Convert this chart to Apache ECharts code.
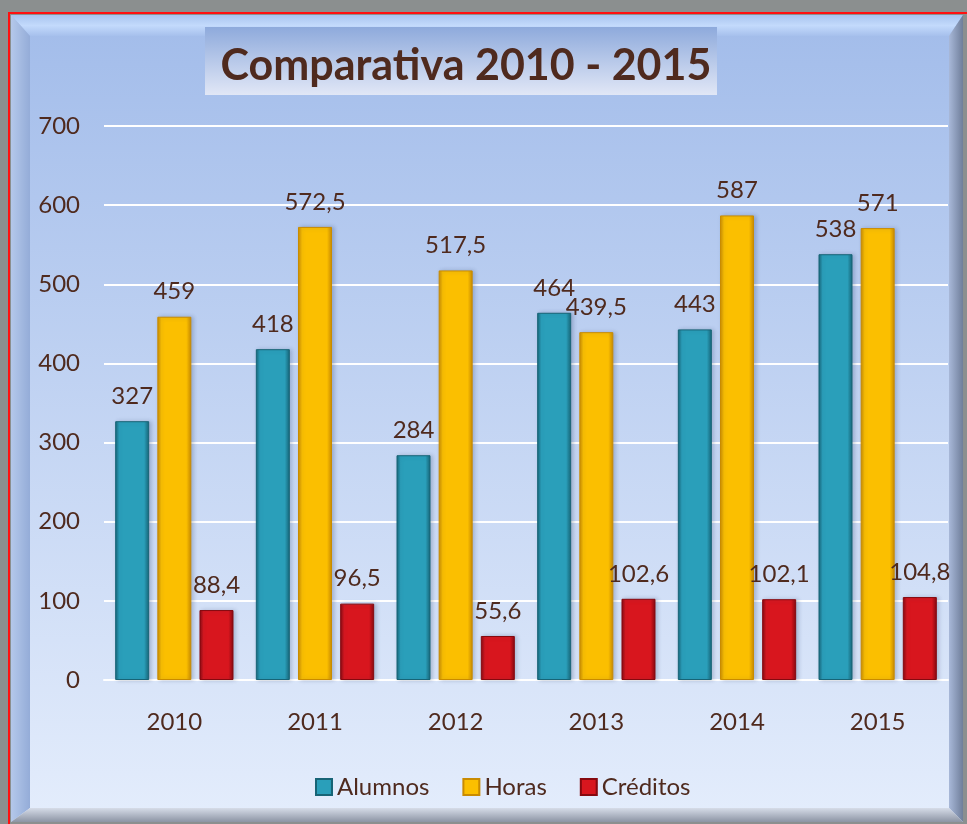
<!DOCTYPE html>
<html>
<head>
<meta charset="utf-8">
<script src="https://cdn.jsdelivr.net/npm/echarts@6/dist/echarts.min.js"></script>
<style>
  html, body { margin: 0; padding: 0; background: #8b8f8f; }
  #chart { width: 967px; height: 824px; }
</style>
</head>
<body>
<div id="chart"></div>
<script>
// datos
const years = ['2010', '2011', '2012', '2013', '2014', '2015'];
const alumnos = [327, 418, 284, 464, 443, 538];
const horas = [459, 572.5, 517.5, 439.5, 587, 571];
const creditos = [88.4, 96.5, 55.6, 102.6, 102.1, 104.8];
const yTicks = [0, 100, 200, 300, 400, 500, 600, 700];

const txt = '#4f2a1e';
const font = 'Lato, "Noto Sans", sans-serif';

const barFill = (edge, mid) => new echarts.graphic.LinearGradient(0, 0, 1, 0, [
   { offset: 0, color: edge },
   { offset: 0.12, color: mid },
   { offset: 0.85, color: mid },
   { offset: 1, color: edge }
]);

const fmt = (p) => String(p.value).replace('.', ',');

const mkSeries = (name, data, edge, mid) => ({
   name,
   type: 'bar',
   barWidth: 34,
   barGap: '24%',
   data,
   itemStyle: {
      color: barFill(edge, mid),
      borderColor: edge,
      borderWidth: 1,
      shadowColor: 'rgba(40,60,100,0.25)',
      shadowBlur: 4,
      shadowOffsetX: 2
   },
   label: {
      show: true,
      position: 'top',
      distance: 13,
      color: txt,
      fontSize: 24,
      fontFamily: font,
      formatter: fmt
   }
});

const chart = echarts.init(document.getElementById('chart'));

const option = {
   backgroundColor: '#8b8f8f',
   animation: false,
   graphic: [
      { type: 'rect', z: -10, shape: { x: 9, y: 13, width: 980, height: 830 },
        style: { fill: 'transparent', stroke: '#ff1010', lineWidth: 2 } },
      { type: 'rect', z: -9, shape: { x: 11, y: 15, width: 952, height: 807 },
        style: { fill: new echarts.graphic.LinearGradient(0, 0, 0, 1, [
           { offset: 0, color: '#a2bcea' }, { offset: 1, color: '#e4edfc' }]) } },
      { type: 'polygon', z: -8, shape: { points: [[11, 15], [963, 15], [949, 36], [30, 36]] },
        style: { fill: new echarts.graphic.LinearGradient(0, 0, 0, 1, [
           { offset: 0, color: '#a9c4ee' }, { offset: 0.5, color: '#c3dafc' }, { offset: 1, color: '#a6c0ec' }]) } },
      { type: 'polygon', z: -8, shape: { points: [[11, 15], [30, 36], [30, 808], [11, 822]] },
        style: { fill: new echarts.graphic.LinearGradient(0, 0, 1, 0, [
           { offset: 0, color: '#b4c8ea' }, { offset: 1, color: '#94acd8' }]) } },
      { type: 'polygon', z: -8, shape: { points: [[963, 15], [963, 822], [949, 808], [949, 36]] },
        style: { fill: new echarts.graphic.LinearGradient(0, 0, 1, 0, [
           { offset: 0, color: '#a8b8d8' }, { offset: 1, color: '#6f7e9a' }]) } },
      { type: 'polygon', z: -8, shape: { points: [[11, 822], [30, 808], [949, 808], [963, 822]] },
        style: { fill: new echarts.graphic.LinearGradient(0, 0, 0, 1, [
           { offset: 0, color: '#d6dce8' }, { offset: 1, color: '#8c94a4' }]) } },
      { type: 'rect', z: -7, shape: { x: 205, y: 27, width: 512, height: 68 },
        style: { fill: new echarts.graphic.LinearGradient(0, 0, 0, 1, [
           { offset: 0, color: '#8eaadc' }, { offset: 1, color: '#e1e7f6' }]) } }
   ],
   title: {
      text: 'Comparativa 2010 - 2015',
      left: 461,
      top: 61,
      textAlign: 'center',
      textVerticalAlign: 'middle',
      textStyle: { color: txt, fontSize: 43, fontWeight: 'bold', fontFamily: font }
   },
   legend: {
      bottom: 20,
      left: 310,
      icon: 'rect',
      itemWidth: 16,
      itemHeight: 16,
      itemGap: 33,
      textStyle: { color: txt, fontSize: 24, fontFamily: font }
   },
   grid: { left: 104, right: 19, top: 126, bottom: 144 },
   xAxis: {
      type: 'category',
      data: years,
      axisLine: { lineStyle: { color: '#ffffff', width: 2 } },
      axisTick: { show: false },
      axisLabel: { color: txt, fontSize: 24, fontFamily: font, margin: 30 }
   },
   yAxis: {
      type: 'value',
      min: yTicks[0],
      max: yTicks[yTicks.length - 1],
      interval: 100,
      axisLine: { show: false },
      axisTick: { show: false },
      splitLine: { lineStyle: { color: '#ffffff', width: 2 } },
      axisLabel: { color: txt, fontSize: 24, fontFamily: font, margin: 24 }
   },
   series: [
      mkSeries('Alumnos', alumnos, '#176476', '#2a9fba'),
      mkSeries('Horas', horas, '#c98b00', '#fbbf00'),
      mkSeries('Créditos', creditos, '#86090f', '#d8161e')
   ],
   color: ['#2a9fba', '#fbbf00', '#d8161e']
};

chart.setOption(option);
</script>
</body>
</html>
